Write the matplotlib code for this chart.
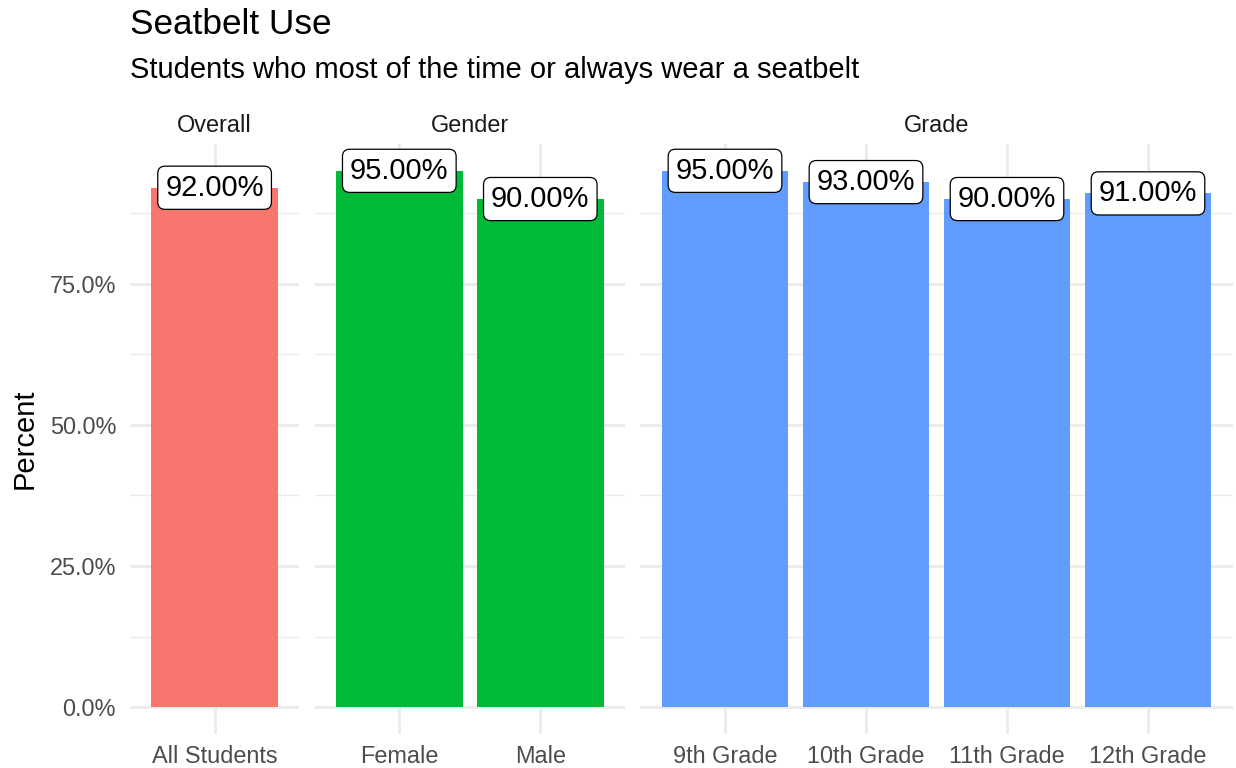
import matplotlib
matplotlib.use("Agg")
import matplotlib.pyplot as plt

plt.rcParams['font.family'] = ['Liberation Sans', 'DejaVu Sans']

# Data
groups = ["Overall", "Gender", "Grade"]
overall_cats = ["All Students"]
overall_vals = [92]
gender_cats = ["Female", "Male"]
gender_vals = [95, 90]
grade_cats = ["9th Grade", "10th Grade", "11th Grade", "12th Grade"]
grade_vals = [95, 93, 90, 91]
colors = ["#F8766D", "#00BA38", "#619CFF"]
yticks = [0, 25, 50, 75]
ytick_labels = ["0.0%", "25.0%", "50.0%", "75.0%"]

panels = [(overall_cats, overall_vals), (gender_cats, gender_vals), (grade_cats, grade_vals)]

W, H = 1236, 768
fig = plt.figure(figsize=(W / 100, H / 100), dpi=100)
fig.patch.set_facecolor("white")

unit = 141.0
gap = 15.5
left = 130.0
top_px, bot_px = 144.0, 734.0
ymin, ymax = -4.75, 99.75

grid_c = "#EBEBEB"
axes = []
x = left
for gi, (cats, vals) in enumerate(panels):
    n = len(cats)
    wpx = unit * (n + 0.2)
    ax = fig.add_axes([x / W, 1 - bot_px / H, wpx / W, (bot_px - top_px) / H])
    x += wpx + gap
    axes.append(ax)
    pos = list(range(len(cats)))
    ax.bar(pos, vals, width=0.9, color=colors[gi], zorder=2, linewidth=0)
    ax.set_xlim(-0.6, n - 0.4)
    ax.set_ylim(ymin, ymax)
    ax.set_xticks(pos)
    ax.set_xticklabels(cats)
    ax.set_yticks(yticks)
    ax.set_yticks([12.5, 37.5, 62.5, 87.5], minor=True)
    if gi == 0:
        ax.set_yticklabels(ytick_labels)
    else:
        ax.set_yticklabels([])
    ax.tick_params(axis='both', which='both', length=0, labelsize=16.9, labelcolor="#4D4D4D")
    ax.tick_params(axis='x', pad=8)
    ax.tick_params(axis='y', pad=10)
    ax.grid(True, which='major', color=grid_c, linewidth=2.0, zorder=0)
    ax.grid(True, which='minor', axis='y', color=grid_c, linewidth=1.0, zorder=0)
    ax.set_axisbelow(True)
    for s in ax.spines.values():
        s.set_visible(False)
    ax.set_facecolor("none")
    for p, v in zip(pos, vals):
        ax.text(p, v, f"{v:.2f}%", ha='center', va='center', fontsize=21, color='black', zorder=5,
                bbox=dict(boxstyle='round,pad=0.26,rounding_size=0.25', fc='white', ec='black', lw=0.9))
    ax.text(0.5, 1 + (top_px - 125) / (bot_px - top_px), groups[gi], transform=ax.transAxes,
            ha='center', va='center', fontsize=16.9, color="#1A1A1A")

fig.text(130 / W, 1 - 24 / H, "Seatbelt Use", fontsize=25.3, ha='left', va='center', color='black')
fig.text(130 / W, 1 - 70 / H, "Students who most of the time or always wear a seatbelt", fontsize=21,
         ha='left', va='center', color='black')
fig.text(25 / W, 1 - 439 / H, "Percent", fontsize=21, rotation=90, ha='center', va='center', color='black')

fig.savefig("out.png", dpi=100, facecolor="white")
